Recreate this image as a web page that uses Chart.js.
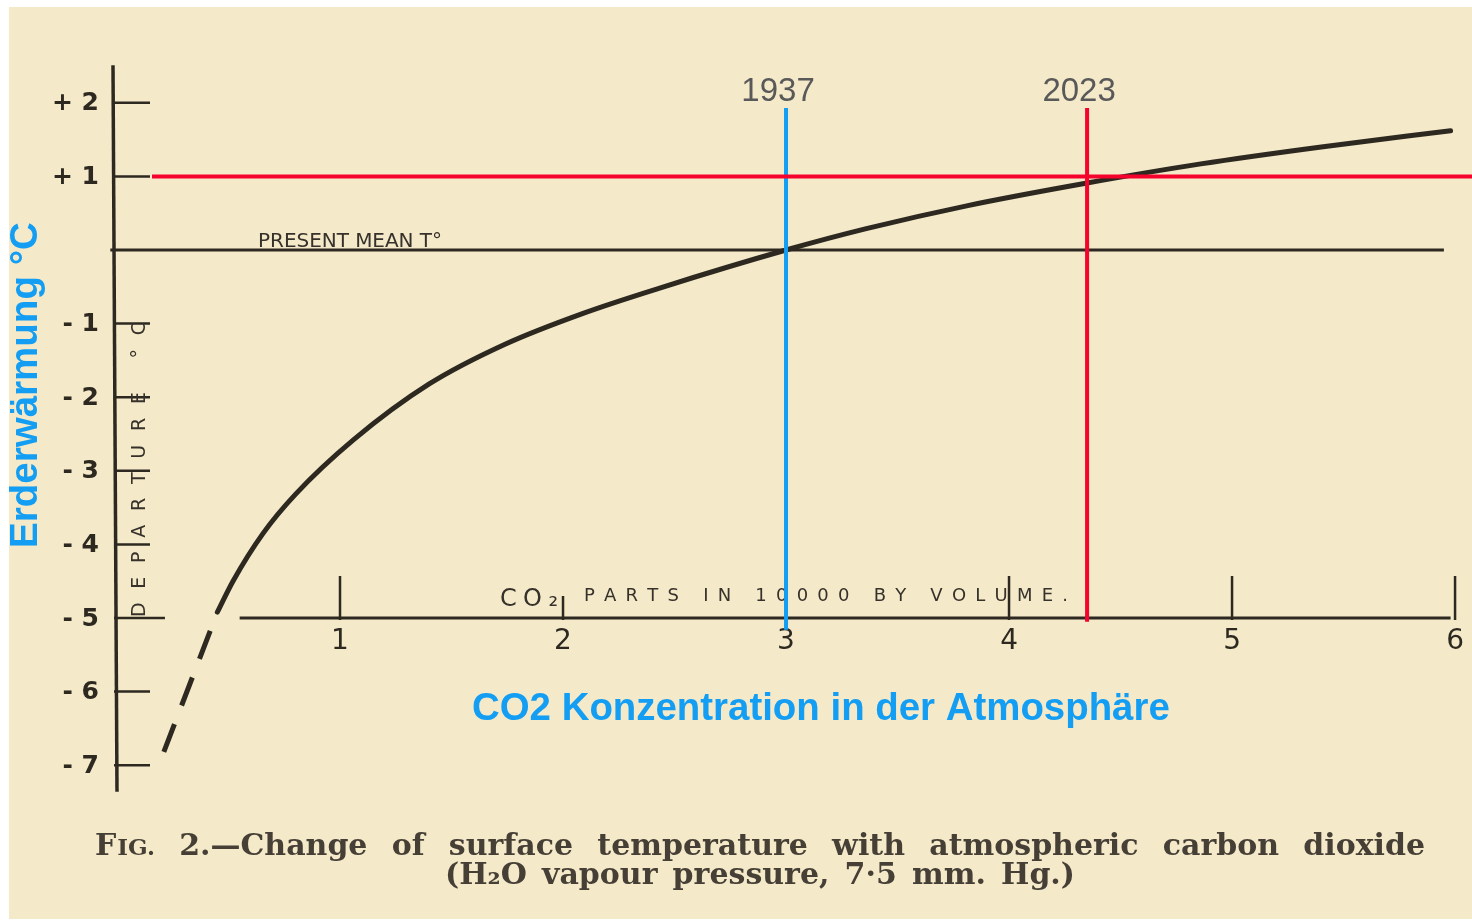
<!DOCTYPE html>
<html><head><meta charset="utf-8">
<script src="https://cdn.jsdelivr.net/npm/chart.js@4.4.1/dist/chart.umd.min.js"></script>
<style>html,body{margin:0;padding:0;background:#fff;overflow:hidden}#c{display:block}</style>
</head><body>
<canvas id="c" width="1472" height="921"></canvas>
<script>
// ---- data ----
const co2Solid  = [0.45, 0.52, 0.655, 0.80, 1.06, 1.40, 1.74, 2.09, 2.43, 3.00, 3.36, 3.81, 4.35, 4.86, 5.40, 5.98];
const tempSolid = [-4.92, -4.50, -3.85, -3.32, -2.58, -1.82, -1.28, -0.86, -0.52, 0.00, 0.29, 0.60, 0.91, 1.17, 1.40, 1.62];
const co2Dashed  = [0.45, 0.21];
const tempDashed = [-4.92, -6.82];
const yTickValues = [2, 1, -1, -2, -3, -4, -5, -6, -7];
const yTickLabels = ['+ 2', '+ 1', '- 1', '- 2', '- 3', '- 4', '- 5', '- 6', '- 7'];
const xTickValues = [1, 2, 3, 4, 5, 6];
const xTickLabels = ['1', '2', '3', '4', '5', '6'];
const presentMeanT = 0;
const markerYears = ['1937', '2023'];
const markerCO2 = [3.0, 4.35];
const warmingLevel = 1;
const presentLabel = 'PRESENT MEAN T°';
const co2AxisLabel = 'PARTS IN 10000 BY VOLUME.';
const departureLabel = 'DEPARTURE °C';
const captionLine1 = 'Fig. 2.—Change of surface temperature with atmospheric carbon dioxide';
const captionLine2 = '(H₂O vapour pressure, 7·5 mm. Hg.)';
const yTitle = 'Erderwärmung °C';
const xTitle = 'CO2 Konzentration in der Atmosphäre';

const INK = '#2d2920';
const RED = '#f5032c';
const BLUE = '#139ef4';

function pts(xs, ys) { return xs.map((x, i) => ({x, y: ys[i]})); }

function spacedText(ctx, text, x0, x1, y) {
  const chars = [...text];
  const ws = chars.map(c => ctx.measureText(c).width);
  const tot = ws.reduce((a, b) => a + b, 0);
  const gap = chars.length > 1 ? (x1 - x0 - tot) / (chars.length - 1) : 0;
  let x = x0;
  chars.forEach((c, i) => { ctx.fillText(c, x, y); x += ws[i] + gap; });
}

function wordWidth(ctx, w, size, fam, smallCaps, draw, x, y) {
  if (!smallCaps) {
    ctx.font = 'bold ' + size + 'px ' + fam;
    if (draw) ctx.fillText(w, x, y);
    return ctx.measureText(w).width;
  }
  ctx.font = 'bold ' + size + 'px ' + fam;
  const a = w[0];
  const wa = ctx.measureText(a).width;
  if (draw) ctx.fillText(a, x, y);
  ctx.font = 'bold ' + Math.round(size * 0.78) + 'px ' + fam;
  const rest = w.slice(1).toUpperCase();
  if (draw) ctx.fillText(rest, x + wa + 1, y);
  return wa + 1 + ctx.measureText(rest).width;
}

function justify(ctx, line, x0, x1, y, size, fam, firstSmallCaps) {
  const words = line.split(' ');
  const ws = words.map((w, i) => wordWidth(ctx, w, size, fam, firstSmallCaps && i === 0, false));
  const tot = ws.reduce((a, b) => a + b, 0);
  const gap = (x1 - x0 - tot) / (words.length - 1);
  let x = x0;
  words.forEach((w, i) => { wordWidth(ctx, w, size, fam, firstSmallCaps && i === 0, true, x, y); x += ws[i] + gap; });
}

function fitSize(ctx, text, weight, fam, target) {
  ctx.font = weight + ' 100px ' + fam;
  return 100 * target / ctx.measureText(text).width;
}

const paperPlugin = {
  id: 'paper',
  beforeDraw(chart) {
    const c = chart.ctx;
    c.save();
    c.fillStyle = '#ffffff';
    c.fillRect(0, 0, chart.width, chart.height);
    c.fillStyle = '#f4e9c9';
    c.fillRect(9, 7, chart.width - 9, 912);
    c.restore();
  }
};

const axesPlugin = {
  id: 'handAxes',
  beforeDatasetsDraw(chart) {
    const c = chart.ctx, xs = chart.scales.x, ys = chart.scales.y;
    c.save();
    c.strokeStyle = INK; c.fillStyle = INK; c.lineCap = 'butt';
    const ax = xs.getPixelForValue(0) - 3;
    // vertical axis
    c.lineWidth = 3.5;
    c.beginPath(); c.moveTo(ax - 1, ys.getPixelForValue(2.51)); c.lineTo(ax + 3, ys.getPixelForValue(-7.36)); c.stroke();
    // y ticks
    c.lineWidth = 2.5;
    yTickValues.forEach(v => {
      const y = ys.getPixelForValue(v);
      const end = v === -5 ? xs.getPixelForValue(0.215) : ax + 36;
      c.beginPath(); c.moveTo(ax, y); c.lineTo(end, y); c.stroke();
    });
    // y tick labels
    c.font = 'bold 25px "DejaVu Sans"';
    c.textAlign = 'right'; c.textBaseline = 'middle';
    yTickValues.forEach((v, i) => c.fillText(yTickLabels[i], ax - 15, ys.getPixelForValue(v) + 1));
    // horizontal CO2 axis at -5
    const y5 = ys.getPixelForValue(-5);
    c.lineWidth = 3;
    c.beginPath(); c.moveTo(xs.getPixelForValue(0.55), y5); c.lineTo(xs.getPixelForValue(5.98), y5); c.stroke();
    c.lineWidth = 2.5;
    xTickValues.forEach(v => {
      const x = xs.getPixelForValue(v);
      c.beginPath(); c.moveTo(x, y5 + 2); c.lineTo(x, y5 - (v === 2 ? 22 : 42)); c.stroke();
    });
    c.font = '28px "DejaVu Sans"';
    c.textAlign = 'center'; c.textBaseline = 'top';
    xTickValues.forEach((v, i) => c.fillText(xTickLabels[i], xs.getPixelForValue(v), y5 + 10));
    // hand lettering
    c.fillStyle = '#36312a';
    c.textAlign = 'left'; c.textBaseline = 'alphabetic';
    c.font = '20px "DejaVu Sans"';
    spacedText(c, presentLabel, 258, 442, ys.getPixelForValue(presentMeanT) - 3);
    c.font = '24px "DejaVu Sans"';
    spacedText(c, 'CO₂', 500, 558, y5 - 12);
    c.font = '18px "DejaVu Sans"';
    spacedText(c, co2AxisLabel, 584, 1068, y5 - 17);
    c.save();
    c.translate(ax + 31, y5 - 1);
    c.rotate(-Math.PI / 2);
    c.font = '19px "DejaVu Sans"';
    spacedText(c, departureLabel, 0, 295, 0);
    c.restore();
    // caption
    c.fillStyle = '#463f36';
    justify(c, captionLine1, 95, 1425, 855, 30, '"DejaVu Serif"', true);
    justify(c, captionLine2, 445, 1075, 884, 30, '"DejaVu Serif"', false);
    c.restore();
  },
  afterDraw(chart) {
    const c = chart.ctx, xs = chart.scales.x, ys = chart.scales.y;
    c.save();
    // year labels
    c.fillStyle = '#595959';
    c.font = '33px "Liberation Sans"';
    c.textAlign = 'center'; c.textBaseline = 'alphabetic';
    markerYears.forEach((t, i) => c.fillText(t, xs.getPixelForValue(markerCO2[i]) - 8, 101));
    // blue titles
    c.fillStyle = BLUE;
    let s = fitSize(c, xTitle, 'bold', '"Liberation Sans"', 698);
    c.font = 'bold ' + s + 'px "Liberation Sans"';
    c.textAlign = 'left';
    c.fillText(xTitle, 472, 720);
    s = fitSize(c, yTitle, 'bold', '"Liberation Sans"', 326);
    c.font = 'bold ' + s + 'px "Liberation Sans"';
    c.translate(37, 548);
    c.rotate(-Math.PI / 2);
    c.fillText(yTitle, 0, 0);
    c.restore();
  }
};

new Chart(document.getElementById('c'), {
  type: 'scatter',
  data: {
    datasets: [
      { data: [{x: 0.157, y: warmingLevel}, {x: 6.08, y: warmingLevel}], borderColor: RED, borderWidth: 4, order: 0 },
      { data: [{x: markerCO2[1], y: 1.93}, {x: markerCO2[1], y: -5.05}], borderColor: RED, borderWidth: 4, order: 0 },
      { data: [{x: markerCO2[0], y: 1.93}, {x: markerCO2[0], y: -5.16}], borderColor: BLUE, borderWidth: 4, order: 0 },
      { data: pts(co2Solid, tempSolid), borderColor: INK, borderWidth: 5, cubicInterpolationMode: 'monotone', borderCapStyle: 'round', order: 1 },
      { data: pts(co2Dashed, tempDashed), borderColor: INK, borderWidth: 5, borderDash: [30, 20], borderDashOffset: 30, order: 1 },
      { data: [{x: -0.03, y: presentMeanT}, {x: 5.95, y: presentMeanT}], borderColor: INK, borderWidth: 3, order: 2 }
    ].map(d => Object.assign({showLine: true, pointRadius: 0, pointHoverRadius: 0, clip: false, fill: false}, d))
  },
  options: {
    responsive: false,
    devicePixelRatio: 1,
    animation: false,
    events: [],
    layout: { padding: { left: 117, right: 0, top: 58.64, bottom: 119 } },
    scales: {
      x: { type: 'linear', min: 0, max: 6.076, display: false },
      y: { type: 'linear', min: -7.5, max: 2.6, display: false }
    },
    plugins: { legend: { display: false }, tooltip: { enabled: false } }
  },
  plugins: [paperPlugin, axesPlugin]
});
</script>
</body></html>
